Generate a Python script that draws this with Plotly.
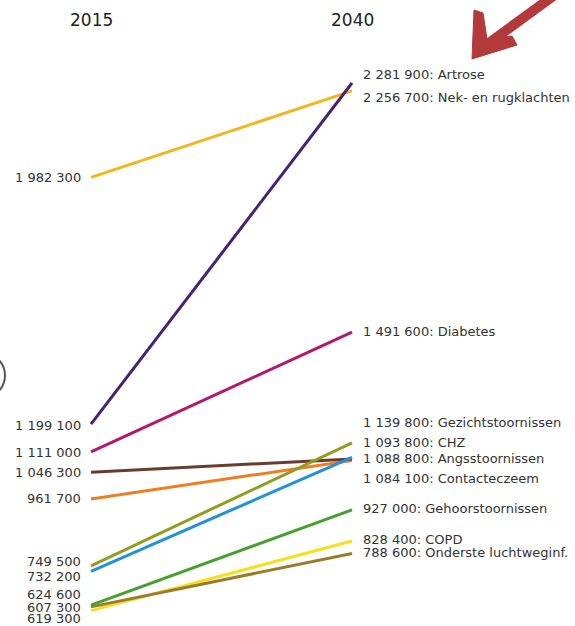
import plotly.graph_objects as go

# Number of patients per condition, 2015 vs. projected 2040
conditions = [
    "COPD", "Onderste luchtweginf.", "Gehoorstoornissen", "Contacteczeem",
    "Angsstoornissen", "CHZ", "Gezichtstoornissen", "Diabetes",
    "Nek- en rugklachten", "Artrose",
]
values_2015 = [607300, 619300, 624600, 961700, 1046300, 732200, 749500, 1111000, 1982300, 1199100]
values_2040 = [828400, 788600, 927000, 1084100, 1088800, 1093800, 1139800, 1491600, 2256700, 2281900]
years = [2015, 2040]
year_labels = ["2015", "2040"]

# Styling per condition (same order as above)
colors = ["#F6E01E", "#9C7C2C", "#45A02C", "#EE7E1F", "#6B3C2E",
          "#2190DD", "#929C1E", "#B3186B", "#F4B51C", "#4A2172"]
# vertical nudges (px, positive = up) keeping labels apart where lines bunch up
left_shift = [3, -12, 11, 0, 0, -5, 4, -1, 0, -1]
right_shift = [1, 1, 1, -18, 0, 15, 20, 1, -7, 9]

W, H = 575, 626


def fmt(v):
    return f"{v:,}".replace(",", " ")


def px(x):
    return x / W


def py(y):
    return 1 - y / H


fig = go.Figure()
for name, a, b, c in zip(conditions, values_2015, values_2040, colors):
    fig.add_trace(go.Scatter(
        x=years, y=[a, b], mode="lines", name=name,
        line=dict(color=c, width=3), hoverinfo="skip",
    ))

font = dict(family="DejaVu Sans, Verdana, sans-serif", size=13, color="#333333")
annotations = []
for name, a, b, ls, rs in zip(conditions, values_2015, values_2040, left_shift, right_shift):
    annotations.append(dict(
        x=years[0], y=a, xref="x", yref="y", text=fmt(a), showarrow=False,
        xanchor="right", yanchor="middle", xshift=-8, yshift=ls, font=font,
    ))
    annotations.append(dict(
        x=years[1], y=b, xref="x", yref="y", text=f"{fmt(b)}: {name}", showarrow=False,
        xanchor="left", yanchor="middle", xshift=9, yshift=rs, font=font,
    ))
for yr, lab in zip(years, year_labels):
    annotations.append(dict(
        x=yr, y=py(20), xref="x", yref="paper", text=lab, showarrow=False,
        xanchor="center", yanchor="middle",
        font=dict(family="DejaVu Sans, Verdana, sans-serif", size=17, color="#222222"),
    ))

arrow_col = "#B23A3A"
head = [(472, 59), (474, 10), (483, 13), (487, 39), (512, 36), (517, 45)]
head_path = "M " + " L ".join(f"{px(x)} {py(y)}" for x, y in head) + " Z"
shapes = [
    dict(type="line", xref="paper", yref="paper",
         x0=px(556), y0=py(-6), x1=px(482), y1=py(48),
         line=dict(color=arrow_col, width=10)),
    dict(type="path", xref="paper", yref="paper", path=head_path,
         fillcolor=arrow_col, line=dict(color=arrow_col, width=1)),
    dict(type="circle", xref="paper", yref="paper",
         x0=px(-45), y0=py(399), x1=px(5), y1=py(352),
         line=dict(color="#555555", width=2)),
]

fig.update_layout(
    width=W, height=H,
    margin=dict(l=0, r=0, t=0, b=0),
    paper_bgcolor="white", plot_bgcolor="white",
    showlegend=False,
    xaxis=dict(range=[2006.284, 2061.36], visible=False, fixedrange=True),
    yaxis=dict(range=[558600, 2545300], visible=False, fixedrange=True),
    annotations=annotations,
    shapes=shapes,
)

fig.write_html("out.html", config={"displayModeBar": False})
